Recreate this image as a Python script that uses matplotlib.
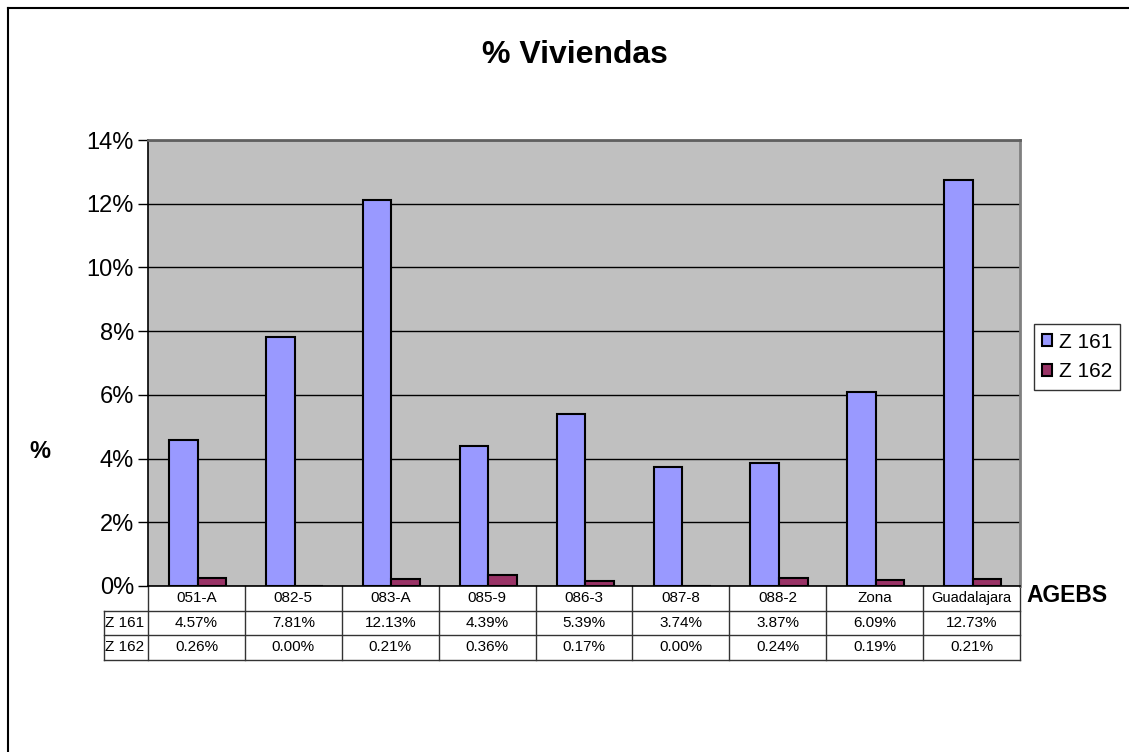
import matplotlib.pyplot as plt
import matplotlib.transforms as mtransforms
from matplotlib.lines import Line2D
import numpy as np

plt.rcParams['font.family'] = ['Liberation Sans', 'DejaVu Sans']

agebs = ["051-A", "082-5", "083-A", "085-9", "086-3", "087-8", "088-2", "Zona", "Guadalajara"]
z161 = [4.57, 7.81, 12.13, 4.39, 5.39, 3.74, 3.87, 6.09, 12.73]
z162 = [0.26, 0.00, 0.21, 0.36, 0.17, 0.00, 0.24, 0.19, 0.21]
series_names = ["Z 161", "Z 162"]
colors = ["#9999FF", "#993366"]

W, H = 1129, 752
fig = plt.figure(figsize=(W / 100, H / 100), dpi=100)

# outer chart frame (only top and left visible in the picture)
fig.add_artist(Line2D([8 / W, 8 / W], [0, 1 - 8 / H], color="black", lw=1.5))
fig.add_artist(Line2D([8 / W, 1], [1 - 8 / H, 1 - 8 / H], color="black", lw=1.5))

left, right, top, bottom = 148, 1020, 140, 586
ax = fig.add_axes([left / W, 1 - bottom / H, (right - left) / W, (bottom - top) / H])
ax.set_facecolor("#C0C0C0")

x = np.arange(len(agebs))
w = 0.295
b1 = ax.bar(x - 0.135, z161, w, color=colors[0], edgecolor="black", linewidth=1.5, zorder=3)
b2 = ax.bar(x + 0.16, z162, w, color=colors[1], edgecolor="black", linewidth=1.5, zorder=3)

ax.set_xlim(-0.5, len(agebs) - 0.5)
ax.set_ylim(0, 14)
ax.set_yticks(range(0, 15, 2))
ax.set_yticklabels([f"{v}%" for v in range(0, 15, 2)], fontsize=17)
ax.tick_params(axis="y", direction="out", length=7, width=1, pad=3)
ax.set_xticks([])
ax.grid(axis="y", color="black", lw=1, zorder=1)
ax.spines["left"].set_color("black")
ax.spines["bottom"].set_color("black")
ax.spines["left"].set_linewidth(1.2)
ax.spines["bottom"].set_linewidth(1.2)
ax.spines["top"].set_color("#606060")
ax.spines["right"].set_color("#808080")
ax.spines["top"].set_linewidth(2)
ax.spines["right"].set_linewidth(2)

# data table below the axis
trans = mtransforms.blended_transform_factory(ax.transData, ax.transAxes)
rh = 24.5 / (bottom - top)
lab_x = -0.5 - (left - 104) / ((right - left) / len(agebs))
lc = "#333333"
for i in range(len(agebs) + 1):
    ax.add_line(Line2D([i - 0.5, i - 0.5], [0, -3 * rh], transform=trans, color=lc, lw=1, clip_on=False))
ax.add_line(Line2D([lab_x, lab_x], [-rh, -3 * rh], transform=trans, color=lc, lw=1, clip_on=False))
for r in (1, 2, 3):
    ax.add_line(Line2D([lab_x, len(agebs) - 0.5], [-r * rh, -r * rh], transform=trans, color=lc, lw=1, clip_on=False))

fs = 11
for i, name in enumerate(agebs):
    ax.text(i, -0.5 * rh, name, transform=trans, ha="center", va="center",
            fontsize=fs if len(name) < 8 else 10.5)
    ax.text(i, -1.5 * rh, f"{z161[i]:.2f}%", transform=trans, ha="center", va="center", fontsize=fs)
    ax.text(i, -2.5 * rh, f"{z162[i]:.2f}%", transform=trans, ha="center", va="center", fontsize=fs)
for r, name in enumerate(series_names):
    ax.text(lab_x + 0.015, -(r + 1.5) * rh, name, transform=trans, ha="left", va="center", fontsize=fs)

fig.text(575 / W, 1 - 55 / H, "% Viviendas", ha="center", va="center", fontsize=23, fontweight="bold")
fig.text(40 / W, 1 - 451 / H, "%", ha="center", va="center", fontsize=17, fontweight="bold")
fig.text(1067 / W, 1 - 595 / H, "AGEBS", ha="center", va="center", fontsize=16.5, fontweight="bold")

leg = fig.legend([b1, b2], series_names, loc="center", bbox_to_anchor=(1077 / W, 1 - 357 / H),
                 fontsize=15, frameon=True, fancybox=False, edgecolor="black",
                 handlelength=0.5, handleheight=0.5, handletextpad=0.3,
                 borderpad=0.4, labelspacing=0.5, borderaxespad=0)
leg.get_frame().set_linewidth(1)

fig.savefig("out.png", dpi=100)
